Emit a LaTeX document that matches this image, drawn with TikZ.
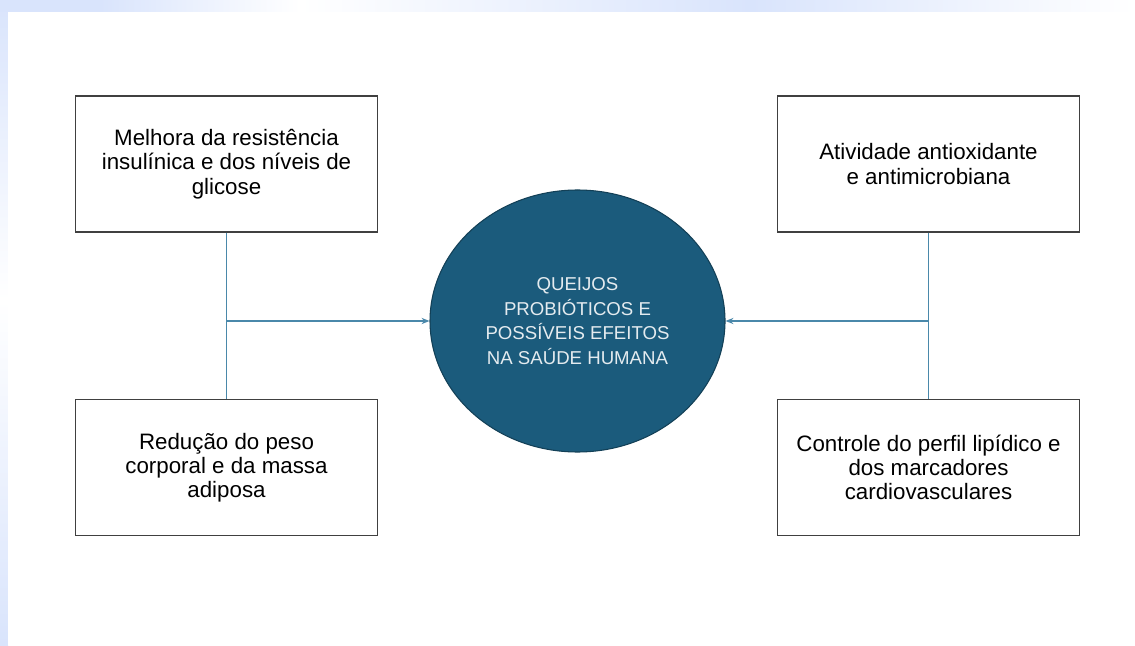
\documentclass[tikz,border=0pt]{standalone}
\usepackage{fontspec}
\setmainfont{Liberation Sans}
\usetikzlibrary{shapes.geometric,arrows.meta}
\definecolor{bandblue}{HTML}{D9E4FC}
\definecolor{cheese}{HTML}{1B5B7C}
\definecolor{linkblue}{HTML}{4A88AA}
\definecolor{boxline}{HTML}{404040}

\begin{document}
\begin{tikzpicture}[
  effect/.style={draw=boxline, line width=0.85pt, fill=white, minimum width=6.04cm,
    minimum height=2.72cm, align=center, font=\fontsize{12.7}{13.8}\selectfont},
  link/.style={draw=linkblue, line width=0.8pt},
]
\useasboundingbox (0,0) rectangle (22.7,12.9);
% background bands
\shade[top color=bandblue, bottom color=white] (0,6.9) rectangle (0.16,12.9);
\shade[top color=white, bottom color=bandblue] (0,0) rectangle (0.16,6.9);
\fill[bandblue] (0,12.66) rectangle (2,12.9);
\shade[left color=bandblue, right color=white] (2,12.66) rectangle (6,12.9);
\shade[left color=white, right color=bandblue] (6,12.66) rectangle (15,12.9);
\shade[left color=bandblue, right color=white] (15,12.66) rectangle (22.7,12.9);
\fill[white] (0.16,0) rectangle (22.7,12.66);

\node[effect] (insulina) at (4.53,9.62) {Melhora da resistência\\insulínica e dos níveis de\\glicose};
\node[effect] (peso) at (4.53,3.55) {Redução do peso\\corporal e da massa\\adiposa};
\node[effect] (antiox) at (18.57,9.62) {Atividade antioxidante\\e antimicrobiana};
\node[effect] (lipidico) at (18.57,3.55) {Controle do perfil lipídico e\\dos marcadores\\cardiovasculares};

\node[ellipse, draw=cheese!70!black, line width=0.6pt, fill=cheese, minimum width=5.9cm,
  minimum height=5.24cm, inner sep=0pt, align=center, text=white!88!cheese,
  font=\fontsize{10.6}{13.9}\selectfont] (queijos) at (11.55,6.48)
  {QUEIJOS\\PROBIÓTICOS E\\POSSÍVEIS EFEITOS\\NA SAÚDE HUMANA};

% connectors
\coordinate (esq) at (insulina.south |- queijos.west);
\coordinate (dir) at (antiox.south |- queijos.east);
\draw[link] (insulina.south) -- (peso.north);
\draw[link] (antiox.south) -- (lipidico.north);
\draw[link,-{Stealth[length=4.5pt,width=3.5pt]}] (esq) -- (queijos.west);
\draw[link,-{Stealth[length=4.5pt,width=3.5pt]}] (dir) -- (queijos.east);
\end{tikzpicture}
\end{document}
